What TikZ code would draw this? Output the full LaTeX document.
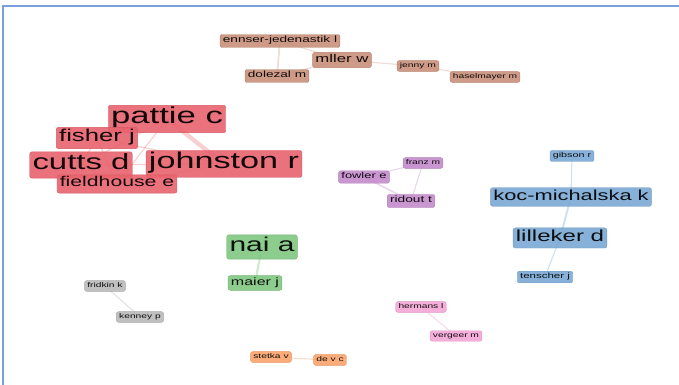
\documentclass[tikz,border=0pt]{standalone}
\usepackage{fontspec}
\newfontfamily\vosfont[FakeStretch=1.5]{Liberation Sans}
\usetikzlibrary{backgrounds}

\definecolor{clred}{HTML}{E8636E}
\definecolor{clbrown}{HTML}{C8907A}
\definecolor{clpurple}{HTML}{C38BCB}
\definecolor{clblue}{HTML}{7AA9D4}
\definecolor{clgreen}{HTML}{80C680}
\definecolor{clgray}{HTML}{B9B9B9}
\definecolor{clpink}{HTML}{F2A6D6}
\definecolor{clorange}{HTML}{F9A36B}
\definecolor{frameblue}{HTML}{7B9FDC}

\begin{document}
\begin{tikzpicture}[
    x=0.025cm, y=-0.025cm,
    author/.style={rectangle, rounded corners=1.5pt, inner xsep=2pt, inner ysep=1.3pt, fill=#1, fill opacity=0.9, text opacity=1, draw=#1!92!black, line width=0.3pt, text=#1!8!black},
    fs/.style={font=\vosfont\fontsize{#1}{#1}\selectfont, execute at begin node=\strut},
    link/.style={line width=0.8pt, draw=#1, opacity=0.45},
    frame/.style={draw=frameblue, line width=1.2pt}
]

\useasboundingbox (0,0) rectangle (679,385);
\draw[frame] (3,385) -- (3,6) -- (679,6);

% === Red cluster ===
\node[author=clred, fs=16.45] (pattie) at (167,119) {pattie c};
\node[author=clred, fs=12.2] (fisher) at (97,138) {fisher j};
\node[author=clred, fs=15.6] (cutts) at (81,165) {cutts d};
\node[author=clred, fs=16.2] (johnston) at (224,164) {johnston r};
\node[author=clred, fs=10.05] (fieldhouse) at (117,184) {fieldhouse e};

% === Brown cluster ===
\node[author=clbrown, fs=6.45] (ennser) at (280,41) {ennser-jedenastik l};
\node[author=clbrown, fs=7.95] (mller) at (342,60) {mller w};
\node[author=clbrown, fs=6.45] (dolezal) at (277,76) {dolezal m};
\node[author=clbrown, fs=4.9] (jenny) at (418,66) {jenny m};
\node[author=clbrown, fs=4.85] (haselmayer) at (485,77) {haselmayer m};

% === Purple cluster ===
\node[author=clpurple, fs=4.85] (franz) at (423,163) {franz m};
\node[author=clpurple, fs=6.1] (fowler) at (364,177) {fowler e};
\node[author=clpurple, fs=6.5] (ridout) at (411,201) {ridout t};

% === Blue cluster ===
\node[author=clblue, fs=5.1] (gibson) at (572,156) {gibson r};
\node[author=clblue, fs=10.35] (koc) at (571,197) {koc-michalska k};
\node[author=clblue, fs=11.4] (lilleker) at (560,238) {lilleker d};
\node[author=clblue, fs=5.45] (tenscher) at (545,277) {tenscher j};

% === Small clusters ===
\node[author=clgreen, fs=14.2] (nai) at (262,247) {nai a};
\node[author=clgreen, fs=7.6] (maier) at (255,283) {maier j};

\node[author=clgray, fs=4.85] (fridkin) at (105,286) {fridkin k};
\node[author=clgray, fs=4.85] (kenney) at (140,317) {kenney p};

\node[author=clpink, fs=4.85] (hermans) at (421,307) {hermans l};
\node[author=clpink, fs=4.85] (vergeer) at (456,336) {vergeer m};

\node[author=clorange, fs=4.85] (stetka) at (271,357) {stetka v};
\node[author=clorange, fs=4.85] (devc) at (330,360) {de v c};

% Co-authorship links behind the labels
\begin{pgfonlayer}{background}
\draw[link=clred!70, line width=3pt] (pattie.center) -- (johnston.center);
\draw[link=clred!70] (pattie.center) -- (cutts.center);
\draw[link=clred!70] (pattie.center) -- (fieldhouse.center);
\draw[link=clred!70] (fisher.center) -- (johnston.center);
\draw[link=clred!70] (fisher.center) -- (cutts.center);
\draw[link=clred!70] (fisher.center) -- (fieldhouse.center);
\draw[link=clred!70] (cutts.center) -- (johnston.center);
\draw[link=clred!70] (cutts.center) -- (fieldhouse.center);
\draw[link=clred!70] (johnston.center) -- (fieldhouse.center);

\draw[link=clbrown!70, line width=1.2pt] (ennser.center) -- (dolezal.center);
\draw[link=clbrown!70] (ennser.center) -- (mller.center);
\draw[link=clbrown!70] (dolezal.center) -- (mller.center);
\draw[link=clbrown!70] (mller.center) -- (jenny.center);
\draw[link=clbrown!70] (jenny.center) -- (haselmayer.center);

\draw[link=clpurple!80] (fowler.center) -- (franz.center);
\draw[link=clpurple!80, line width=1.1pt] (fowler.center) -- (ridout.center);
\draw[link=clpurple!80] (franz.center) -- (ridout.center);

\draw[link=clblue!80] (gibson.center) -- (koc.center);
\draw[link=clblue!80, line width=1.4pt] (koc.center) -- (lilleker.center);
\draw[link=clblue!80] (lilleker.center) -- (tenscher.center);

\draw[link=clgreen!80, line width=1.6pt] (nai.center) -- (maier.center);
\draw[link=clgray!90] (fridkin.center) -- (kenney.center);
\draw[link=clpink!90] (hermans.center) -- (vergeer.center);
\draw[link=clorange!80] (stetka.center) -- (devc.center);
\end{pgfonlayer}

\end{tikzpicture}
\end{document}
